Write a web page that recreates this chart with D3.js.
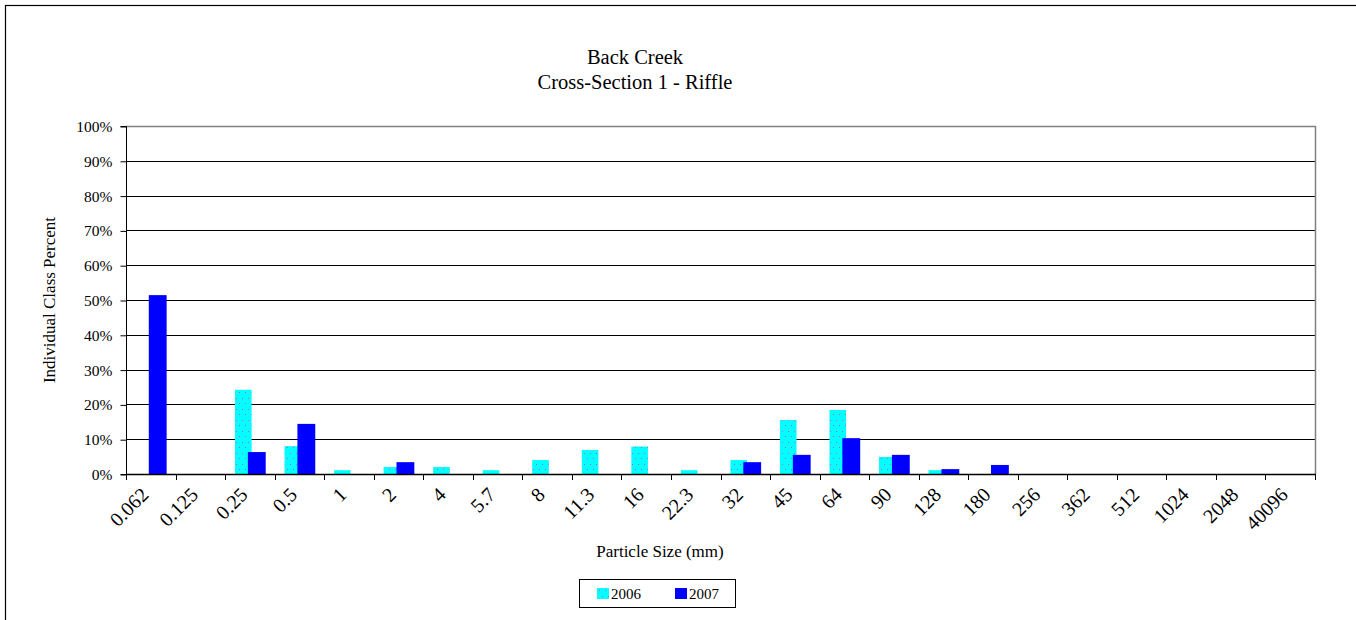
<!DOCTYPE html>
<html><head><meta charset="utf-8">
<script src="https://cdn.jsdelivr.net/npm/d3@7"></script>
<style>
html,body{margin:0;padding:0;background:#fff;}
text{font-family:"Liberation Serif","Times New Roman",serif;fill:#000;}
</style></head>
<body>
<svg id="chart" width="1356" height="620"></svg>
<script>
const categories = ["0.062","0.125","0.25","0.5","1","2","4","5.7","8","11.3","16","22.3","32","45","64","90","128","180","256","362","512","1024","2048","40096"];
const values2006 = [0,0,24.2,8.0,1.1,2.0,2.0,1.1,4.0,6.9,7.9,1.1,4.0,15.5,18.4,4.9,1.1,0,0,0,0,0,0,0];
const values2007 = [51.4,0,6.3,14.4,0,3.4,0,0,0,0,0,0,3.4,5.5,10.3,5.5,1.4,2.6,0,0,0,0,0,0];
const seriesNames = ["2006","2007"];
const yTicks = [0,10,20,30,40,50,60,70,80,90,100];
const titleLines = ["Back Creek","Cross-Section 1 - Riffle"];
const xTitle = "Particle Size (mm)";
const yTitle = "Individual Class Percent";

const svg = d3.select("#chart");
const L = 126, R = 1315, T = 126, B = 474;

// pattern for 2006
const defs = svg.append("defs");
const pat = defs.append("pattern").attr("id","dots").attr("patternUnits","userSpaceOnUse")
  .attr("width",6).attr("height",11);
pat.append("rect").attr("width",6).attr("height",11).attr("fill","#00ffff");
pat.append("rect").attr("x",2).attr("y",2).attr("width",1).attr("height",1).attr("fill","#9a6fb0");
pat.append("rect").attr("x",5).attr("y",7).attr("width",1).attr("height",1).attr("fill","#9a6fb0");

// frame
svg.append("rect").attr("x",5.5).attr("y",5.5).attr("width",1400).attr("height",700)
  .attr("fill","none").attr("stroke","#000").attr("stroke-width",1.2);

const x = d3.scaleBand().domain(categories).range([L,R]).padding(0);
const y = d3.scaleLinear().domain([0,100]).range([B,T]);
const bw = x.bandwidth();

// gridlines
svg.append("g").selectAll("line").data(yTicks.filter(d=>d>0&&d<100)).join("line")
  .attr("x1",L).attr("x2",R).attr("y1",d=>Math.round(y(d))+0.5).attr("y2",d=>Math.round(y(d))+0.5)
  .attr("stroke","#000").attr("stroke-width",1);
// plot border top/right gray
svg.append("path").attr("d",`M${L},${T+0.5}H${R+0.5}V${B}`).attr("fill","none").attr("stroke","#808080").attr("stroke-width",1.5);

// bars
const bars = svg.append("g");
bars.selectAll("rect.s06").data(categories).join("rect").attr("class","s06")
  .attr("x",(d)=>x(d)+0.2*bw).attr("width",0.335*bw)
  .attr("y",(d,i)=>y(values2006[i])).attr("height",(d,i)=>B-y(values2006[i]))
  .attr("fill","url(#dots)");
bars.selectAll("rect.s07").data(categories).join("rect").attr("class","s07")
  .attr("x",(d)=>x(d)+0.46*bw).attr("width",0.36*bw)
  .attr("y",(d,i)=>y(values2007[i])).attr("height",(d,i)=>B-y(values2007[i]))
  .attr("fill","#0000ff");

// y axis
const yAxis = d3.axisLeft(y).tickValues(yTicks).tickFormat(d=>d+"%").tickSize(6).tickPadding(8);
const gy = svg.append("g").attr("transform",`translate(${L+0.5},0.5)`).call(yAxis);
gy.select(".domain").attr("stroke","#000").attr("d",`M-6,${T}H0V${B}H-6`);
gy.selectAll(".tick line").attr("stroke","#000");
gy.selectAll(".tick text").style("font-family","Liberation Serif").style("font-size","15.5px").attr("fill","#000");

// x axis: ticks at category boundaries
const gx = svg.append("g");
gx.append("line").attr("x1",L).attr("x2",R+1).attr("y1",B+0.5).attr("y2",B+0.5).attr("stroke","#000").attr("stroke-width",1.5);
gx.selectAll("line.t").data(categories.concat(["end"])).join("line").attr("class","t")
  .attr("x1",(d,i)=>Math.round(L+i*bw)+0.5).attr("x2",(d,i)=>Math.round(L+i*bw)+0.5)
  .attr("y1",B).attr("y2",B+6).attr("stroke","#000");
gx.selectAll("text").data(categories).join("text")
  .attr("transform",d=>`translate(${x(d)+bw/2-6},${B+17}) rotate(-45)`)
  .attr("text-anchor","end").attr("dy","0.35em")
  .style("font-size","20px").text(d=>d);

// titles
svg.append("text").attr("x",635).attr("y",64).attr("text-anchor","middle").style("font-size","20.5px").text(titleLines[0]);
svg.append("text").attr("x",635).attr("y",89).attr("text-anchor","middle").style("font-size","20.5px").text(titleLines[1]);
svg.append("text").attr("x",660).attr("y",557).attr("text-anchor","middle").style("font-size","17px").text(xTitle);
svg.append("text").attr("transform","translate(55,300) rotate(-90)").attr("text-anchor","middle").style("font-size","17px").text(yTitle);

// legend
const lg = svg.append("g");
lg.append("rect").attr("x",579.5).attr("y",579.5).attr("width",156).attr("height",28).attr("fill","#fff").attr("stroke","#000").attr("stroke-width",1);
const items = [{name:seriesNames[0],fill:"url(#dots)",x:597},{name:seriesNames[1],fill:"#0000ff",x:675}];
items.forEach(it=>{
  lg.append("rect").attr("x",it.x).attr("y",588).attr("width",12).attr("height",11).attr("fill",it.fill);
  lg.append("text").attr("x",it.x+14).attr("y",599).style("font-size","15px").text(it.name);
});
</script>
</body></html>
